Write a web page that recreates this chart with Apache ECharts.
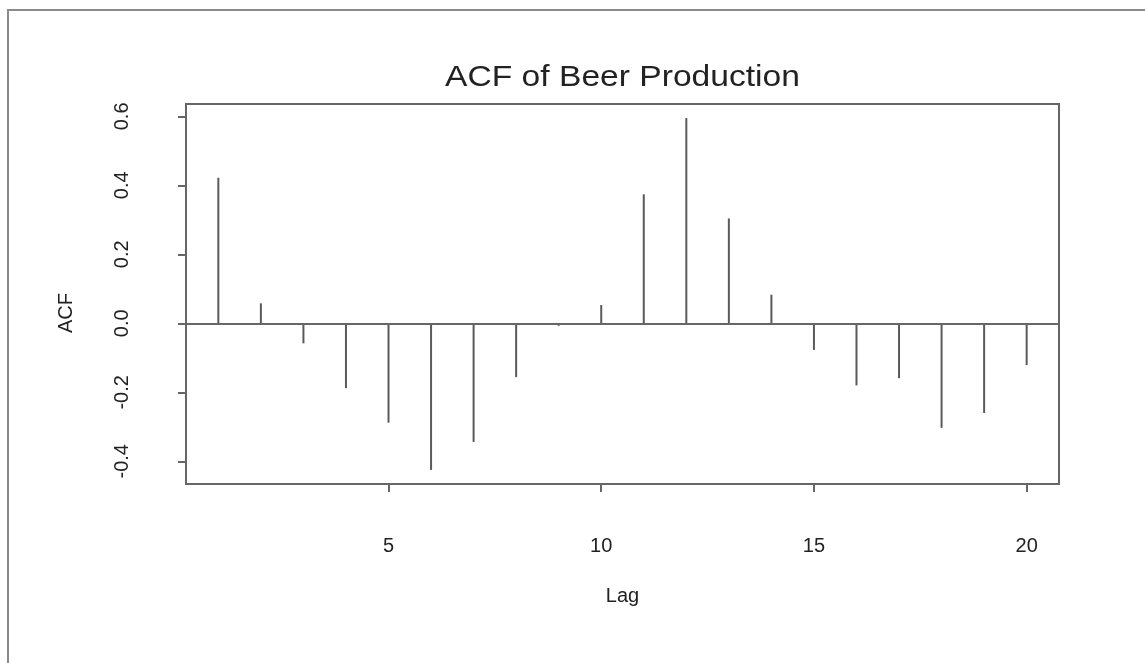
<!DOCTYPE html>
<html>
<head>
<meta charset="utf-8">
<title>ACF of Beer Production</title>
<script src="https://cdn.jsdelivr.net/npm/echarts@6/dist/echarts.min.js"></script>
<style>
  html, body { margin: 0; padding: 0; background: #fff; }
  #chart { width: 1145px; height: 663px; }
</style>
</head>
<body>
<div id="chart"></div>
<script>
// Autocorrelation of the beer production series, lags 1..20
const lags = [1, 2, 3, 4, 5, 6, 7, 8, 9, 10, 11, 12, 13, 14, 15, 16, 17, 18, 19, 20];
const acfValues = [0.422, 0.058, -0.058, -0.188, -0.288, -0.425, -0.344, -0.156, -0.005, 0.053,
                   0.374, 0.595, 0.304, 0.083, -0.077, -0.180, -0.159, -0.303, -0.260, -0.121];
const xTicks = [5, 10, 15, 20];
const yTicks = [-0.4, -0.2, 0.0, 0.2, 0.4, 0.6];

// R-style axis limits: data range padded by 4% on each side
function padRange(lo, hi) {
  const d = (hi - lo) * 0.04;
  return [lo - d, hi + d];
}
const xRange = padRange(Math.min(...lags), Math.max(...lags));
const yRange = padRange(Math.min(...acfValues), Math.max(...acfValues));

const FONT = '"Liberation Sans", Arial, Helvetica, sans-serif';
const TEXT = '#222';
const LINE = '#5a5a5a';

const GRID = { left: 186, right: 86, top: 104, bottom: 179 };
const plotCenterX = GRID.left + (1145 - GRID.left - GRID.right) / 2;

const chart = echarts.init(document.getElementById('chart'), null, { renderer: 'canvas' });

chart.setOption({
  animation: false,
  backgroundColor: '#fff',
  grid: Object.assign({
    show: true, borderColor: '#666', borderWidth: 2, backgroundColor: 'transparent'
  }, GRID),
  xAxis: {
    type: 'value',
    min: xRange[0], max: xRange[1],
    name: 'Lag',
    nameLocation: 'middle',
    nameGap: 102,
    nameTextStyle: { fontFamily: FONT, fontSize: 20, color: TEXT },
    splitLine: { show: false },
    axisLine: { show: false, onZero: false },
    axisTick: {
      show: true, length: 8, inside: false,
      customValues: xTicks,
      lineStyle: { color: '#666', width: 2 }
    },
    axisLabel: {
      customValues: xTicks,
      margin: 52,
      fontFamily: FONT, fontSize: 20, color: TEXT,
      formatter: v => String(v)
    }
  },
  yAxis: {
    type: 'value',
    min: yRange[0], max: yRange[1],
    splitLine: { show: false },
    axisLine: { show: false, onZero: false },
    axisTick: {
      show: true, length: 8,
      customValues: yTicks,
      lineStyle: { color: '#666', width: 2 }
    },
    axisLabel: {
      customValues: yTicks,
      rotate: 90,
      margin: 54,
      fontFamily: FONT, fontSize: 20, color: TEXT,
      formatter: v => v.toFixed(1)
    }
  },
  graphic: [
    // outer frame around the figure
    {
      type: 'rect',
      shape: { x: 8, y: 10, width: 1160, height: 680 },
      style: { fill: 'none', stroke: '#8a8a8a', lineWidth: 2 },
      silent: true
    },
    // title, centred over the plot region
    {
      type: 'text',
      x: plotCenterX, y: 78,
      scaleX: 1.12,
      style: {
        text: 'ACF of Beer Production', fontFamily: FONT, fontSize: 30, fill: TEXT,
        align: 'center', verticalAlign: 'middle'
      },
      silent: true
    },
    {
      type: 'text',
      x: 66, y: 313,
      rotation: Math.PI / 2,
      style: {
        text: 'ACF', fontFamily: FONT, fontSize: 20, fill: TEXT,
        align: 'center', verticalAlign: 'middle'
      },
      silent: true
    }
  ],
  series: [{
    // vertical spikes from zero to each autocorrelation value
    type: 'custom',
    data: lags.map((l, i) => [l, acfValues[i]]),
    silent: true,
    z: 3,
    renderItem: function (params, api) {
      const base = api.coord([api.value(0), 0]);
      const tip = api.coord([api.value(0), api.value(1)]);
      let y2 = tip[1];
      // keep near-zero spikes visible as a small stub
      if (Math.abs(y2 - base[1]) < 2.5) y2 = base[1] + (y2 >= base[1] ? 2.5 : -2.5);
      return {
        type: 'line',
        shape: { x1: base[0], y1: base[1], x2: tip[0], y2: y2 },
        style: { stroke: LINE, lineWidth: 2 }
      };
    },
    markLine: {
      silent: true,
      symbol: ['none', 'none'],
      label: { show: false },
      lineStyle: { color: '#666', width: 2, type: 'solid' },
      data: [{ yAxis: 0 }]
    }
  }]
});
</script>
</body>
</html>
